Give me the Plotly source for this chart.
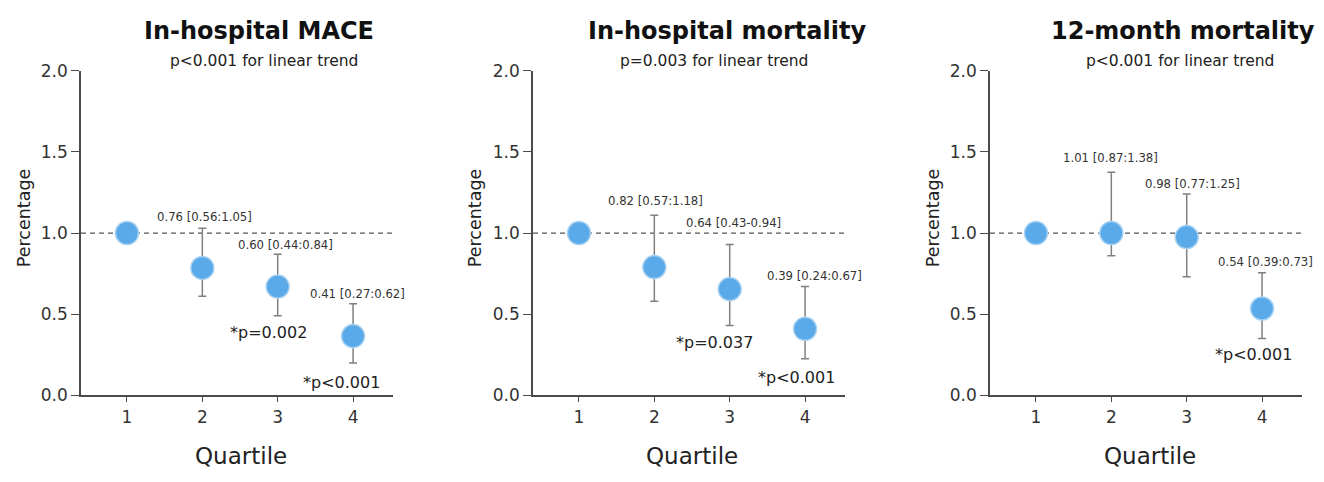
import plotly.graph_objects as go

# The page places the figure 8 px from the top-left corner, so the figure is
# made 8 px smaller and all pixel positions are measured from that corner.
OFF = 8
W, H = 1324 - OFF, 482 - OFF

quartiles = [1, 2, 3, 4]

titles = ["In-hospital MACE", "In-hospital mortality", "12-month mortality"]
trend_text = ["p<0.001 for linear trend", "p=0.003 for linear trend", "p<0.001 for linear trend"]

mace_vals = [1.0, 0.785, 0.67, 0.365]
mace_low = [1.0, 0.61, 0.49, 0.20]
mace_high = [1.0, 1.03, 0.87, 0.565]
mace_ci_labels = ["", "0.76 [0.56:1.05]", "0.60 [0.44:0.84]", "0.41 [0.27:0.62]"]
mace_p_labels = ["", "", "*p=0.002", "*p<0.001"]

hosp_vals = [1.0, 0.79, 0.655, 0.41]
hosp_low = [1.0, 0.58, 0.43, 0.225]
hosp_high = [1.0, 1.11, 0.93, 0.67]
hosp_ci_labels = ["", "0.82 [0.57:1.18]", "0.64 [0.43-0.94]", "0.39 [0.24:0.67]"]
hosp_p_labels = ["", "", "*p=0.037", "*p<0.001"]

m12_vals = [1.0, 1.0, 0.975, 0.535]
m12_low = [1.0, 0.86, 0.73, 0.35]
m12_high = [1.0, 1.375, 1.24, 0.755]
m12_ci_labels = ["", "1.01 [0.87:1.38]", "0.98 [0.77:1.25]", "0.54 [0.39:0.73]"]
m12_p_labels = ["", "", "", "*p<0.001"]

yticks = [0.0, 0.5, 1.0, 1.5, 2.0]
ytick_text = ["0.0", "0.5", "1.0", "1.5", "2.0"]

panels = [
    (mace_vals, mace_low, mace_high, mace_ci_labels, mace_p_labels),
    (hosp_vals, hosp_low, hosp_high, hosp_ci_labels, hosp_p_labels),
    (m12_vals, m12_low, m12_high, m12_ci_labels, m12_p_labels),
]

# layout geometry (pixels in the target picture)
x_left = [81, 533, 990]
x_right = [393, 845, 1302]
y_top_px, y_bot_px = 63, 402
title_cx = [259, 727, 1183]
sub_cx = [264, 714, 1180]
quart_cx = [241, 692, 1150]
perc_cx = [24, 475, 933]
ci_dx = [[0, 2, 8, 4], [0, 1, 4, 9], [0, -1, 6, 3]]
ci_dy = [[0, 11, 9, 10], [0, 14, 21, 11], [0, 14, 10, 11]]
p_dx = [[0, 0, -9, -12], [0, 0, -15, -9], [0, 0, 0, -9]]
p_dy = [[0, 0, 17, 20], [0, 0, 17, 19], [0, 0, 0, 16]]


def px_x(px):
    return (px - OFF) / W


def px_y(py):
    return 1 - (py - OFF) / H


FONT = "DejaVu Sans"
fig = go.Figure()
annotations = []
shapes = []

for i, (vals, low, high, ci_lab, p_lab) in enumerate(panels):
    xa = "x" if i == 0 else f"x{i+1}"
    ya = "y" if i == 0 else f"y{i+1}"
    fig.add_trace(go.Scatter(
        x=quartiles, y=vals, mode="markers", xaxis=xa, yaxis=ya,
        marker=dict(size=23, color="#5aaaea", line=dict(color="#a9d2f2", width=1.5)),
        error_y=dict(type="data", symmetric=False,
                     array=[h - v for h, v in zip(high, vals)],
                     arrayminus=[v - l for v, l in zip(vals, low)],
                     color="#808080", thickness=1.5, width=4),
        showlegend=False, cliponaxis=False, hoverinfo="skip",
    ))
    dom_x = [px_x(x_left[i]), px_x(x_right[i])]
    dom_y = [px_y(y_bot_px), px_y(y_top_px)]
    axis_common = dict(showgrid=False, zeroline=False, showline=True, linecolor="#4a4a4a",
                       linewidth=1.5, ticks="outside", tickwidth=1.3,
                       tickcolor="#4a4a4a", tickfont=dict(family=FONT, size=17, color="#333333"))
    fig.layout[f"xaxis{'' if i == 0 else i+1}"] = dict(
        domain=dom_x, range=[0.39, 4.53], tickvals=quartiles, ticklen=5,
        ticktext=[str(q) for q in quartiles], anchor=ya, **axis_common)
    fig.layout[f"yaxis{'' if i == 0 else i+1}"] = dict(
        domain=dom_y, range=[0, 2], tickvals=yticks, ticktext=ytick_text, ticklen=8,
        anchor=xa, **axis_common)

    # reference line at 1.0
    shapes.append(dict(type="line", xref=f"{xa} domain", yref=ya, x0=0, x1=1, y0=1, y1=1,
                       line=dict(color="#555555", width=1.3, dash="5px,4px"), layer="below"))

    for j, q in enumerate(quartiles):
        if ci_lab[j]:
            annotations.append(dict(x=q, y=high[j], xref=xa, yref=ya, text=ci_lab[j],
                                    showarrow=False, xshift=ci_dx[i][j], yshift=ci_dy[i][j],
                                    xanchor="center", yanchor="middle",
                                    font=dict(family=FONT, size=11.7, color="#333333")))
        if p_lab[j]:
            annotations.append(dict(x=q, y=low[j], xref=xa, yref=ya, text=p_lab[j],
                                    showarrow=False, xshift=p_dx[i][j], yshift=-p_dy[i][j],
                                    xanchor="center", yanchor="middle",
                                    font=dict(family=FONT, size=16, color="#222222")))

    annotations.append(dict(x=px_x(title_cx[i]), y=px_y(22), xref="paper", yref="paper",
                            text=f"<b>{titles[i]}</b>", showarrow=False,
                            xanchor="center", yanchor="middle",
                            font=dict(family=FONT, size=24, color="#111111")))
    annotations.append(dict(x=px_x(sub_cx[i]), y=px_y(53), xref="paper", yref="paper",
                            text=trend_text[i], showarrow=False,
                            xanchor="center", yanchor="middle",
                            font=dict(family=FONT, size=15.5, color="#222222")))
    annotations.append(dict(x=px_x(quart_cx[i]), y=px_y(465), xref="paper", yref="paper",
                            text="Quartile", showarrow=False,
                            xanchor="center", yanchor="middle",
                            font=dict(family=FONT, size=23, color="#222222")))
    annotations.append(dict(x=px_x(perc_cx[i]), y=px_y(217), xref="paper", yref="paper",
                            text="Percentage", showarrow=False, textangle=-90,
                            xanchor="center", yanchor="middle",
                            font=dict(family=FONT, size=17.5, color="#222222")))

fig.update_layout(
    width=W, height=H, margin=dict(l=0, r=0, t=0, b=0),
    paper_bgcolor="white", plot_bgcolor="white",
    annotations=annotations, shapes=shapes,
)

fig.write_html("out.html")
